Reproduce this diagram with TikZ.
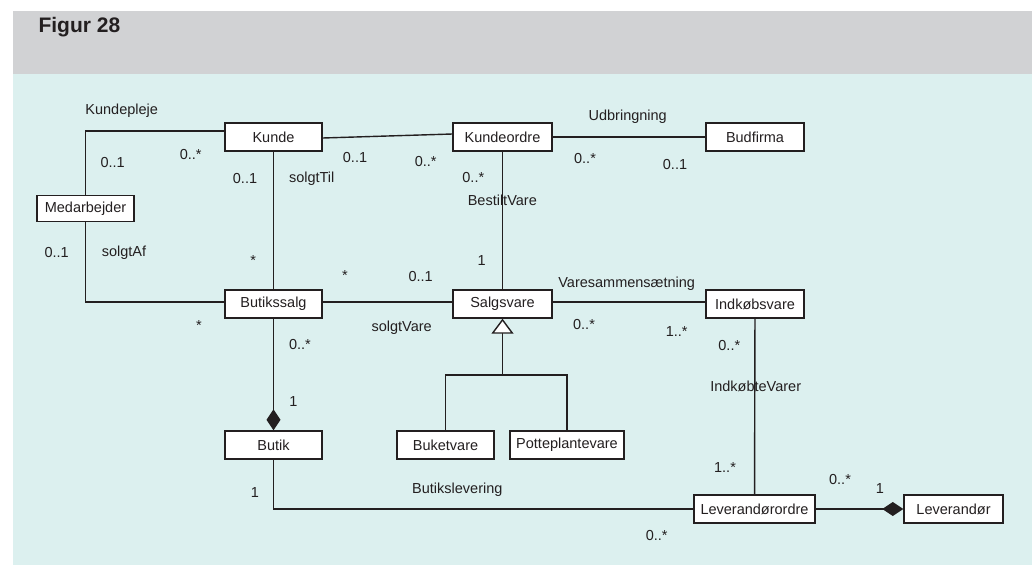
\documentclass[tikz,border=0pt]{standalone}
\usepackage{fontspec}
\setmainfont{Liberation Sans}
\usetikzlibrary{arrows.meta}
\definecolor{headgray}{RGB}{209,210,212}
\definecolor{panel}{RGB}{220,240,239}
\definecolor{ink}{RGB}{35,31,32}
\begin{document}
\begin{tikzpicture}[x=1pt,y=-1pt,
  every node/.style={font=\fontsize{14.5}{17}\selectfont, text=ink},
  cls/.style={draw=ink, fill=white, line width=1.4pt, inner sep=0pt, minimum height=28pt},
  assoc/.style={draw=ink, line width=1.4pt},
  lbl/.style={inner sep=0pt},
  comp/.style={assoc, -{Diamond[length=21pt,width=14pt,fill=ink]}},
  gen/.style={assoc, -{Triangle[length=15pt,width=22pt,fill=white]}}
]
\useasboundingbox (0,0) rectangle (1032,565);
% panels
\fill[headgray] (13,11) rectangle (1032,74);
\fill[panel] (13,74) rectangle (1032,565);
\node[anchor=west, font=\fontsize{21}{25}\selectfont\bfseries] (title) at (35,27) {Figur 28};

% classes
\node[cls, minimum width=97pt] (kunde) at (273.5,137) {Kunde};
\node[cls, minimum width=97pt, minimum height=26pt] (medarb) at (85.5,208.5) {Medarbejder};
\node[cls, minimum width=97pt] (butikssalg) at (273.5,304) {Butikssalg};
\node[cls, minimum width=99pt] (kundeordre) at (502.5,137) {Kundeordre};
\node[cls, minimum width=99pt] (salgsvare) at (502.5,304) {Salgsvare};
\node[cls, minimum width=98pt] (budfirma) at (755,137) {Budfirma};
\node[cls, minimum width=98pt] (indkob) at (755,304) {Indkøbsvare};
\node[cls, minimum width=97pt] (butik) at (273.5,445) {Butik};
\node[cls, minimum width=97pt] (buket) at (445.5,445) {Buketvare};
\node[cls, minimum width=114pt] (potte) at (567,445) {Potteplantevare};
\node[cls, minimum width=121pt] (levordre) at (754.5,509) {Leverandørordre};
\node[cls, minimum width=99pt] (lev) at (953.5,509) {Leverandør};

% associations
\draw[assoc] ([yshift=6pt]kunde.west) -| (medarb.north);
\draw[assoc] (medarb.south) |- ([yshift=2pt]butikssalg.west);
\draw[assoc] ([yshift=-1pt]kunde.east) -- ([yshift=3pt]kundeordre.west);
\draw[assoc] (kunde) -- (butikssalg);
\draw[assoc] (kundeordre) -- (budfirma);
\draw[assoc] (kundeordre) -- (salgsvare);
\draw[assoc] ([yshift=2pt]butikssalg.east) -- ([yshift=2pt]salgsvare.west);
\draw[assoc] ([yshift=2pt]salgsvare.east) -- ([yshift=2pt]indkob.west);
\draw[assoc] (indkob) -- (levordre);
\draw[assoc] (butik.south) |- (levordre.west);
\draw[comp] (butikssalg.south) -- (butik.north);
\draw[comp] (levordre.east) -- (lev.west);

% generalization
\coordinate (gj) at (salgsvare.south |- 0,375);
\draw[assoc] (buket.north) |- (gj) -| (potte.north);
\draw[gen] (gj) -- (salgsvare.south);

% association names
\node[lbl] (nKundepleje) at (121.7,111) {Kundepleje};
\node[lbl] (nSolgtTil) at (311.7,179) {solgtTil};
\node[lbl] (nSolgtAf) at (124,253) {solgtAf};
\node[lbl] (nBestilt) at (502.3,200) {BestiltVare};
\node[lbl] (nUdbr) at (627.7,117) {Udbringning};
\node[lbl] (nVaresam) at (626.7,284) {Varesammensætning};
\node[lbl] (nSolgtVare) at (401.7,327.3) {solgtVare};
\node[lbl] (nButiklev) at (457.3,489.3) {Butikslevering};
\node[lbl] (nIndkVarer) at (755.7,386) {IndkøbteVarer};

% multiplicities
\node[lbl] (m1) at (112.7,163) {0..1};
\node[lbl] (m2) at (190.7,155) {0..*};
\node[lbl] (m3) at (245,179) {0..1};
\node[lbl] (m4) at (56.7,253) {0..1};
\node[lbl] (m5) at (253.3,261) {*};
\node[lbl] (m6) at (345,276) {*};
\node[lbl] (m7) at (199,326) {*};
\node[lbl] (m8) at (355,157.7) {0..1};
\node[lbl] (m9) at (425.7,161.7) {0..*};
\node[lbl] (m10) at (473.3,178) {0..*};
\node[lbl] (m11) at (481.7,261) {1};
\node[lbl] (m12) at (420.7,277) {0..1};
\node[lbl] (m13) at (585,159) {0..*};
\node[lbl] (m14) at (675,165) {0..1};
\node[lbl] (m15) at (584,325) {0..*};
\node[lbl] (m16) at (300,345) {0..*};
\node[lbl] (m17) at (293.3,401.7) {1};
\node[lbl] (m18) at (255,493) {1};
\node[lbl] (m19) at (676.7,331.7) {1..*};
\node[lbl] (m20) at (729.3,345.7) {0..*};
\node[lbl] (m21) at (725,467.7) {1..*};
\node[lbl] (m22) at (840,479.3) {0..*};
\node[lbl] (m23) at (880,489) {1};
\node[lbl] (m24) at (656.7,535) {0..*};
\end{tikzpicture}
\end{document}
